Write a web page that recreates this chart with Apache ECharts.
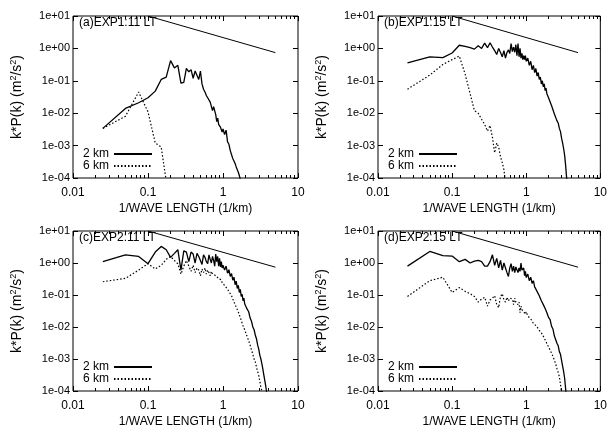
<!DOCTYPE html>
<html>
<head>
<meta charset="utf-8">
<script src="https://cdn.jsdelivr.net/npm/echarts@6/dist/echarts.min.js"></script>
</head>
<body style="margin:0">
<div id="main" style="width:610px;height:436px"></div>
<script>
// wavenumber grid (1/km)
var kGrid = [0.025,0.05,0.075,0.1,0.125,0.15,0.175,0.2,0.225,0.25,
  0.275,0.3,0.325,0.35,0.375,0.4,0.425,0.45,0.475,0.5,
  0.525,0.55,0.575,0.6,0.625,0.65,0.675,0.7,0.725,0.75,
  0.775,0.8,0.825,0.85,0.875,0.9,0.925,0.95,0.975,1.0,
  1.05,1.1,1.15,1.2,1.25,1.3,1.35,1.4,1.45,1.5,
  1.55,1.6,1.65,1.7,1.75,1.8,1.85,1.9,1.95,2.0,
  2.1,2.2,2.3,2.4,2.5,2.6,2.7,2.8,2.9,3.0,
  3.1,3.2,3.3,3.4,3.5,3.6,3.7,3.8,3.9,4.0];

// (a) EXP1 11 LT
var a2km = [0.0034,0.014,0.021,0.03,0.048,0.11,0.13,0.42,0.25,0.3,
  0.085,0.09,0.24,0.19,0.22,0.12,0.2,0.23,0.11,0.2,
  0.08,0.055,0.045,0.035,0.03,0.028,0.022,0.02,0.012,0.016,
  0.017,0.009,0.0055,0.007,0.0045,0.005,0.0037,0.0042,0.0026,0.0033,
  0.0022,0.003,0.0013,0.0011,0.0007,0.0008,0.0004,0.00035,0.00028,0.00022,
  0.0002,0.00015,0.00012,0.00009,0.00005];
var a6km = [0.0034,0.008,0.045,0.011,0.0012,0.0009,0.00008];

// (b) EXP1 15 LT
var b2km = [0.36,0.55,0.52,0.72,1.25,1.15,1.05,0.95,1.2,1.0,
  1.45,1.05,1.5,1.1,0.85,0.65,1.0,0.75,0.55,0.85,
  0.5,0.75,0.9,0.7,1.4,0.8,1.1,0.75,1.3,0.6,
  1.4,0.55,1.0,0.5,0.7,0.45,0.6,0.45,0.6,0.4,
  0.5,0.3,0.4,0.22,0.3,0.18,0.24,0.14,0.18,0.11,
  0.13,0.08,0.1,0.065,0.08,0.05,0.06,0.04,0.046,0.03,
  0.027,0.017,0.015,0.0095,0.0085,0.0058,0.005,0.0034,0.0027,0.0017,
  0.0012,0.0008,0.0005,0.00025,0.00011,0.00005];
var b6km = [0.055,0.15,0.32,0.45,0.58,0.16,0.04,0.012,0.01,0.0065,
  0.0045,0.0028,0.0042,0.0018,0.0006,0.0012,0.0009,0.00045,0.0003,0.00018,
  0.00008];

// (c) EXP2 11 LT
var c2km = [1.1,1.8,1.6,0.95,2.2,3.3,2.6,1.5,2.0,2.6,
  0.6,2.4,2.2,1.1,2.2,1.9,1.0,2.0,1.6,1.2,
  0.9,1.8,1.5,1.1,0.95,1.8,1.3,1.0,1.6,1.2,
  0.8,1.9,1.1,1.6,0.8,1.4,0.75,1.1,0.7,0.85,
  0.6,0.8,0.48,0.62,0.38,0.47,0.29,0.36,0.21,0.27,
  0.16,0.2,0.12,0.15,0.09,0.105,0.066,0.08,0.052,0.058,
  0.036,0.03,0.019,0.015,0.01,0.0082,0.0055,0.0042,0.0027,0.002,
  0.0013,0.001,0.0007,0.00048,0.00032,0.00022,0.00015,0.0001,0.00006];
var c6km = [0.26,0.33,0.6,0.95,0.65,0.85,1.3,1.6,1.2,0.95,
  0.45,0.8,1.2,0.8,0.55,0.85,0.5,0.7,0.6,0.4,
  0.65,0.5,0.7,0.45,0.6,0.5,0.4,0.55,0.45,0.5,
  0.42,0.45,0.38,0.4,0.32,0.36,0.28,0.3,0.24,0.25,
  0.2,0.2,0.15,0.14,0.11,0.095,0.075,0.065,0.05,0.045,
  0.035,0.03,0.024,0.02,0.016,0.014,0.011,0.0095,0.008,0.0075,
  0.005,0.0037,0.0027,0.0019,0.0014,0.001,0.0008,0.00055,0.0004,0.0003,
  0.0002,0.00013,0.0001,0.00007];

// (d) EXP2 15 LT
var d2km = [0.8,2.3,1.7,1.65,1.1,1.3,1.0,1.15,1.2,1.1,
  0.8,0.8,1.1,1.8,0.85,1.4,0.7,1.2,0.6,1.0,
  1.1,0.5,0.38,0.7,0.95,0.55,0.8,0.5,0.75,0.65,
  0.5,0.7,0.55,1.0,0.6,0.55,0.7,0.4,0.55,0.35,
  0.45,0.28,0.36,0.23,0.28,0.18,0.19,0.13,0.13,0.095,
  0.09,0.066,0.066,0.05,0.05,0.038,0.037,0.028,0.027,0.02,
  0.017,0.0105,0.0085,0.0052,0.0047,0.0031,0.0026,0.0017,0.0014,0.0009,
  0.0006,0.0004,0.00025,0.00012,0.00006];
var d6km = [0.09,0.28,0.36,0.12,0.17,0.13,0.11,0.09,0.06,0.075,
  0.085,0.045,0.07,0.08,0.095,0.05,0.04,0.09,0.11,0.07,
  0.06,0.085,0.065,0.08,0.07,0.075,0.05,0.08,0.06,0.065,
  0.05,0.06,0.028,0.045,0.035,0.04,0.03,0.034,0.025,0.03,
  0.022,0.024,0.018,0.017,0.013,0.0125,0.011,0.011,0.009,0.0085,
  0.007,0.0075,0.006,0.0055,0.0045,0.0043,0.0035,0.003,0.0026,0.0024,
  0.0019,0.0015,0.0012,0.0009,0.0007,0.0005,0.00038,0.00028,0.00016,0.00009];

// -5/3 reference line
var refK = [0.1, 5];
var refP = [10, 0.74];

var panelTitles = ['(a)EXP1:11 LT', '(b)EXP1:15 LT', '(c)EXP2:11 LT', '(d)EXP2:15 LT'];
var minorTicks = [0.02,0.03,0.04,0.05,0.06,0.07,0.08,0.09,0.2,0.3,0.4,0.5,0.6,0.7,0.8,0.9,2,3,4,5,6,7,8,9];

var FONT = '"Liberation Sans", Arial, sans-serif';
var panels = [[a2km, a6km], [b2km, b6km], [c2km, c6km], [d2km, d6km]];
var boxes = [
  {left: 73, top: 16, width: 225, height: 162},
  {left: 378, top: 16, width: 225, height: 162},
  {left: 73, top: 231, width: 225, height: 160},
  {left: 378, top: 231, width: 225, height: 160}
];

function pairs(vals) {
  return vals.map(function (v, i) { return [kGrid[i], v]; });
}

function xAxisOf(g, pos, len, ticks, withLabel) {
  var tick = {show: true, inside: true, length: len, lineStyle: {color: '#000'}};
  if (ticks) tick.customValues = ticks;
  var ax = {
    type: 'log', logBase: 10, gridIndex: g, min: 0.01, max: 10, position: pos,
    axisLine: {show: false}, splitLine: {show: false}, axisTick: tick,
    axisLabel: {show: false}
  };
  if (withLabel) {
    ax.axisLabel = {show: true, color: '#000', fontSize: 12, fontFamily: FONT, margin: 9,
      showMinLabel: true, showMaxLabel: true};
    ax.name = '1/WAVE LENGTH (1/km)';
    ax.nameLocation = 'middle';
    ax.nameGap = 25;
    ax.nameTextStyle = {color: '#000', fontSize: 12, fontFamily: FONT};
  }
  return ax;
}

function expLabel(v) {
  var e = Math.round(Math.log10(v));
  var s = e < 0 ? '-' : '+';
  var a = Math.abs(e);
  return '1e' + s + (a < 10 ? '0' : '') + a;
}

var grid = [], xAxis = [], yAxis = [], series = [], legend = [], title = [];
boxes.forEach(function (b, g) {
  grid.push({left: b.left, top: b.top, width: b.width, height: b.height,
    show: true, borderColor: '#000', borderWidth: 1, backgroundColor: 'transparent'});
  xAxis.push(xAxisOf(g, 'bottom', 5, null, true));
  xAxis.push(xAxisOf(g, 'bottom', 3, minorTicks, false));
  xAxis.push(xAxisOf(g, 'top', 5, null, false));
  xAxis.push(xAxisOf(g, 'top', 3, minorTicks, false));
  yAxis.push({
    type: 'log', logBase: 10, gridIndex: g, min: 0.0001, max: 10, position: 'left',
    axisLine: {show: false}, splitLine: {show: false},
    axisTick: {show: true, inside: true, length: 5, lineStyle: {color: '#000'}},
    axisLabel: {color: '#000', fontSize: 11, fontFamily: FONT, margin: 3, formatter: expLabel},
    name: 'k*P(k) (m{sup|2}/s{sup|2})', nameLocation: 'middle', nameGap: 48, nameRotate: 90,
    nameTextStyle: {color: '#000', fontSize: 14, fontFamily: FONT, lineHeight: 16,
      rich: {sup: {fontSize: 9, fontFamily: FONT, color: '#000', verticalAlign: 'top', lineHeight: 16}}}
  });
  yAxis.push({
    type: 'log', logBase: 10, gridIndex: g, min: 0.0001, max: 10, position: 'right',
    axisLine: {show: false}, splitLine: {show: false},
    axisTick: {show: true, inside: true, length: 5, lineStyle: {color: '#000'}},
    axisLabel: {show: false}
  });
  var xi = g * 4, yi = g * 2;
  series.push({name: '2 km', type: 'line', xAxisIndex: xi, yAxisIndex: yi, data: pairs(panels[g][0]),
    symbol: 'none', lineStyle: {color: '#000', width: 1.3, type: 'solid'}, itemStyle: {color: '#000'}});
  series.push({name: '6 km', type: 'line', xAxisIndex: xi, yAxisIndex: yi, data: pairs(panels[g][1]),
    symbol: 'none', lineStyle: {color: '#000', width: 1.2, type: [1.5, 2]}, itemStyle: {color: '#000'}});
  series.push({name: 'ref', type: 'line', xAxisIndex: xi, yAxisIndex: yi,
    data: refK.map(function (k, i) { return [k, refP[i]]; }),
    symbol: 'none', lineStyle: {color: '#000', width: 1}});
  legend.push({data: ['2 km', '6 km'], left: b.left + 10, top: g < 2 ? 148 : 361,
    orient: 'vertical', align: 'right', itemWidth: 38, itemHeight: 12, itemGap: 0, padding: 0,
    selectedMode: false, itemStyle: {opacity: 0},
    textStyle: {color: '#000', fontSize: 12, fontFamily: FONT}});
  title.push({text: panelTitles[g], left: b.left + 6, top: b.top + 1, padding: 0,
    textStyle: {color: '#000', fontSize: 12, fontWeight: 'normal', fontFamily: FONT}});
});

var chart = echarts.init(document.getElementById('main'));
chart.setOption({
  animation: false,
  backgroundColor: '#fff',
  title: title,
  legend: legend,
  grid: grid,
  xAxis: xAxis,
  yAxis: yAxis,
  series: series
});
</script>
</body>
</html>
